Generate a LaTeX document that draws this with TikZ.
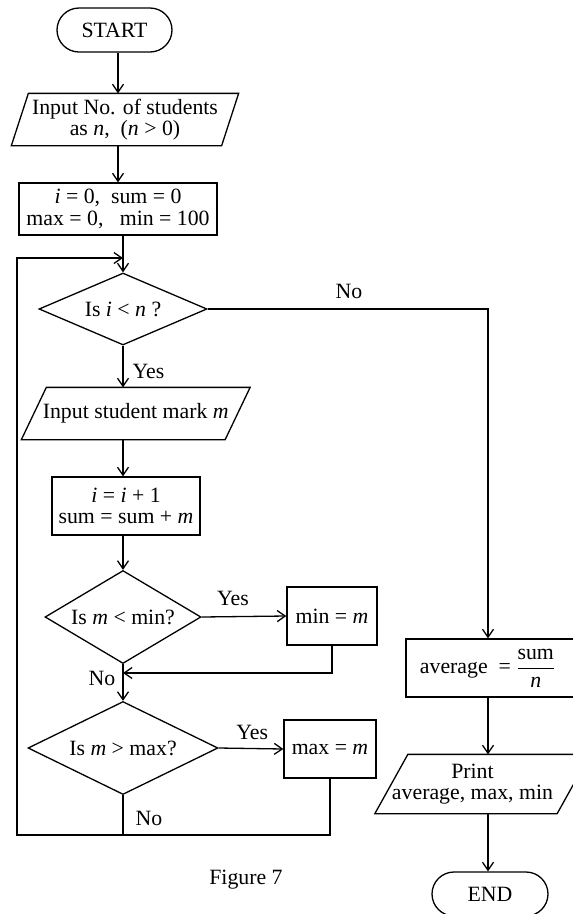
\documentclass[tikz,border=0pt]{standalone}
\usepackage{fontspec}
\setmainfont{Liberation Serif}
\usetikzlibrary{shapes.geometric,arrows.meta}
\newcommand\drawpara[2]{\draw ([xshift=#2]#1.north west) -- ([xshift=#2]#1.north east) -- ([xshift=-#2]#1.south east) -- ([xshift=-#2]#1.south west) -- cycle;}
\begin{document}
\begin{tikzpicture}[x=1pt,y=-1pt, line width=1.3pt, font=\fontsize{21.8}{21.5}\selectfont,
 arr/.style={-{Straight Barb[length=8pt,width=11pt]}},
 term/.style={draw, rounded corners=22pt, minimum width=115pt, minimum height=44pt, inner sep=0},
 proc/.style={draw, inner sep=0, align=center},
 io/.style={inner sep=0, align=center},
 dec/.style={draw, diamond, inner sep=0},
 lab/.style={inner sep=0}]
\useasboundingbox (0,0) rectangle (573,914);
% nodes
\node[term] (start) at (114.5,30) {START};
\node[io, minimum width=209pt, minimum height=51pt] (in1) at (125,119.5) {Input No. of students\\as \textit{n},~~(\textit{n} > 0)};
\drawpara{in1}{8.5}
\node[proc, minimum width=198pt, minimum height=52pt] (init) at (118,209) {\textit{i} = 0,~~sum = 0\\max = 0,~~~min = 100};
\node[dec, minimum width=168pt, minimum height=72pt, aspect=2.33] (d1) at (123,309) {Is \textit{i} < \textit{n} ?};
\node[io, minimum width=202.5pt, minimum height=51pt] (in2) at (135.75,413.5) {Input student mark \textit{m}};
\drawpara{in2}{12.5}
\node[proc, minimum width=148pt, minimum height=58pt] (b2) at (126,506) {\textit{i} = \textit{i} + 1\\sum = sum + \textit{m}};
\node[dec, minimum width=156pt, minimum height=93pt, aspect=1.68] (d2) at (123,617) {Is \textit{m} < min?};
\node[proc, minimum width=90pt, minimum height=58pt] (mn) at (332,616) {min = \textit{m}};
\node[dec, minimum width=190pt, minimum height=93pt, aspect=2.04] (d3) at (123,748) {Is \textit{m} > max?};
\node[proc, minimum width=92pt, minimum height=58pt] (mx) at (330,749) {max = \textit{m}};
\node[proc, minimum width=184pt, minimum height=58pt] (avg) at (498,668) {average~~= $\displaystyle\frac{\mbox{sum}}{\mbox{\textit{n}}}$\hspace*{21pt}};
\node[io, minimum width=172pt, minimum height=58pt] (prt) at (482.5,784) {Print\hspace*{20pt}\\average, max, min\hspace*{20pt}};
\drawpara{prt}{16.5}
\node[term, minimum width=116pt] (end) at (490,894) {END};
\node[lab] (fig) at (246,880) {Figure 7};
\node[lab] (no1) at (102,678) {No};
\node[lab] (no2) at (149,818) {No};
\node[lab] (no3) at (349,291) {No};
% helper coordinates
\coordinate (cu) at (118,0);
\coordinate (cl) at (123,0);
\coordinate (cr) at (488,0);
\coordinate (j1) at (123,673);
\coordinate (lb) at (17,835);
\coordinate (lt) at (17,258);
% connectors
\draw[arr] (start.south -| cu) -- (in1.north -| cu);
\draw[arr] (in1.south -| cu) -- (init.north -| cu);
\draw[arr] (init.south -| cl) -- (d1.north);
\draw[arr] (d1.south) -- (in2.north -| cl) node[lab, pos=0.63, anchor=west, xshift=9pt] {Yes};
\draw[arr] (in2.south -| cl) -- (b2.north -| cl);
\draw[arr] (b2.south -| cl) -- (d2.north);
\draw[arr] (d2.east) -- (mn.west) node[lab, pos=0.37, anchor=south, yshift=10pt] {Yes};
\draw[arr] (mn.south) |- (j1);
\draw[arr] (d2.south) -- (d3.north);
\draw[arr] (d3.east) -- (mx.west) node[lab, pos=0.52, anchor=south, yshift=8pt] {Yes};
\draw[arr] (mx.south) |- (lb) -- (lt) -- (d1.north |- lt);
\draw (d3.south) -- (d3.south |- lb);
\draw[arr] (d1.east) -| (avg.north -| cr);
\draw[arr] (avg.south -| cr) -- (prt.north -| cr);
\draw[arr] (prt.south -| cr) -- (end.north -| cr);
\end{tikzpicture}
\end{document}
